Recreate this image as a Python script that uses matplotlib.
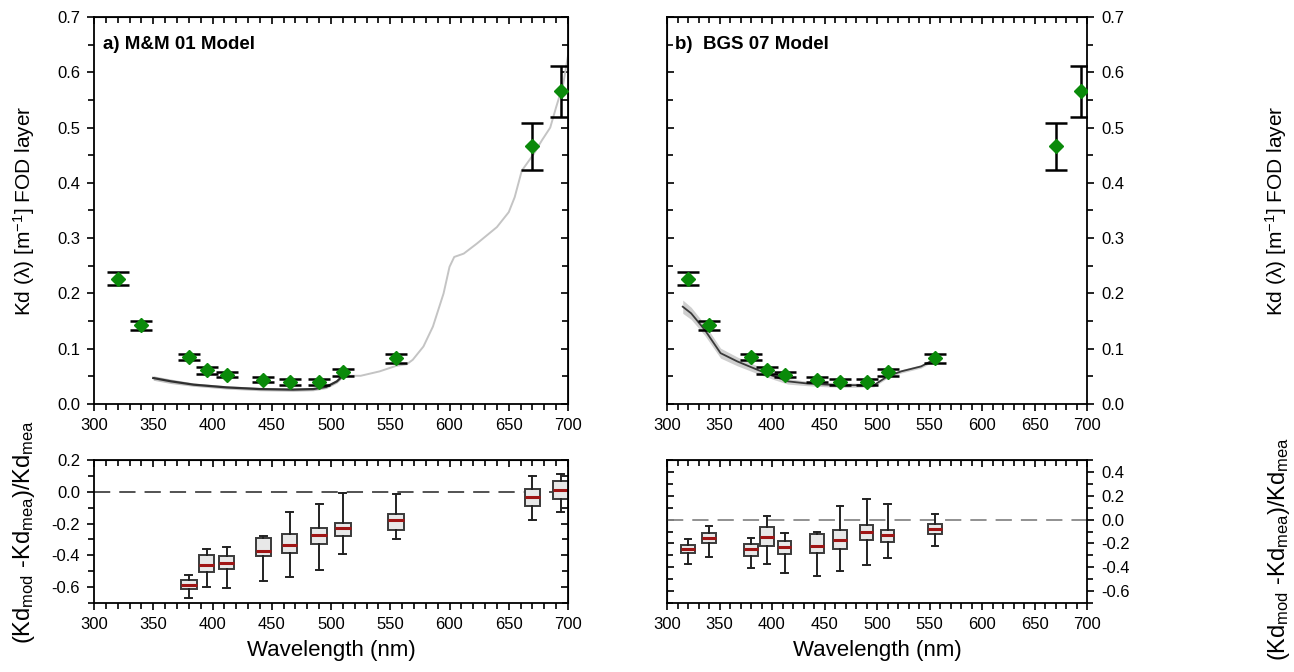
import matplotlib
matplotlib.use("Agg")
import matplotlib.pyplot as plt
import numpy as np
from matplotlib.ticker import MultipleLocator

plt.rcParams['font.family'] = ['Liberation Sans', 'DejaVu Sans']
plt.rcParams['mathtext.fontset'] = 'custom'
plt.rcParams['mathtext.rm'] = 'Liberation Sans'
plt.rcParams['mathtext.it'] = 'Liberation Sans:italic'
plt.rcParams['mathtext.bf'] = 'Liberation Sans:bold'

# measured Kd (green diamonds) with error bars
meas_wl = [320, 340, 380, 395, 412, 443, 465, 490, 510, 555, 670, 694]
meas_kd = [0.227, 0.142, 0.085, 0.061, 0.053, 0.044, 0.040, 0.040, 0.057, 0.083, 0.466, 0.566]
meas_err = [0.012, 0.009, 0.006, 0.006, 0.005, 0.005, 0.005, 0.005, 0.006, 0.008, 0.042, 0.046]

# M&M 01 model, UV/blue part (dark, with spread band)
mm_wl = [350, 365, 384, 412, 440, 468, 485, 496, 505, 510]
mm_kd = [0.047, 0.041, 0.035, 0.030, 0.027, 0.026, 0.027, 0.031, 0.041, 0.051]
mm_spread = [0.004, 0.004, 0.003, 0.003, 0.003, 0.003, 0.003, 0.003, 0.003, 0.003]

# M&M 01 model, visible part (light grey)
mm_vis_wl = [510, 525, 541, 555, 564, 569, 578, 586, 595, 600, 604, 612, 623, 640, 650,
             655, 661, 665, 671, 678, 685, 690, 696, 700]
mm_vis_kd = [0.051, 0.051, 0.059, 0.069, 0.072, 0.080, 0.104, 0.140, 0.200, 0.248, 0.266, 0.272,
             0.290, 0.320, 0.347, 0.374, 0.422, 0.434, 0.452, 0.477, 0.500, 0.537, 0.579, 0.630]

# BGS 07 model
bgs_wl = [315, 323, 336, 351, 367, 386, 402, 415, 434, 453, 472, 497, 510, 523, 542, 551, 556]
bgs_kd = [0.176, 0.164, 0.134, 0.092, 0.077, 0.062, 0.050, 0.041, 0.037, 0.035, 0.034, 0.034,
          0.050, 0.059, 0.068, 0.077, 0.085]
bgs_spread = [0.012, 0.011, 0.010, 0.009, 0.008, 0.007, 0.006, 0.005, 0.004, 0.004, 0.004, 0.003,
              0.003, 0.003, 0.003, 0.003, 0.003]

# relative differences (Kd_mod - Kd_mea)/Kd_mea, box statistics
mm_box_wl = [380, 395, 412, 443, 465, 490, 510, 555, 670, 694]
mm_lo = [-0.669, -0.600, -0.606, -0.560, -0.535, -0.490, -0.390, -0.300, -0.175, -0.130]
mm_q1 = [-0.612, -0.507, -0.487, -0.407, -0.386, -0.330, -0.280, -0.240, -0.090, -0.045]
mm_med = [-0.585, -0.461, -0.451, -0.371, -0.336, -0.275, -0.225, -0.175, -0.035, 0.010]
mm_q3 = [-0.553, -0.397, -0.407, -0.292, -0.263, -0.230, -0.195, -0.140, 0.020, 0.070]
mm_hi = [-0.524, -0.361, -0.348, -0.277, -0.129, -0.075, -0.010, -0.015, 0.100, 0.110]

bgs_box_wl = [320, 340, 380, 395, 412, 443, 465, 490, 510, 555]
bgs_lo = [-0.369, -0.310, -0.410, -0.374, -0.450, -0.470, -0.432, -0.385, -0.325, -0.225]
bgs_q1 = [-0.279, -0.193, -0.307, -0.220, -0.289, -0.279, -0.248, -0.175, -0.190, -0.125]
bgs_med = [-0.246, -0.151, -0.250, -0.150, -0.230, -0.223, -0.170, -0.100, -0.130, -0.075]
bgs_q3 = [-0.215, -0.109, -0.203, -0.064, -0.176, -0.123, -0.089, -0.045, -0.085, -0.040]
bgs_hi = [-0.167, -0.058, -0.153, 0.030, -0.109, -0.100, 0.112, 0.170, 0.130, 0.045]

fig = plt.figure(figsize=(12.94, 6.72), dpi=100)
W, H = 1294, 672


def add_ax(x0, x1, y0, y1):
    return fig.add_axes([x0 / W, 1 - y1 / H, (x1 - x0) / W, (y1 - y0) / H])


ax_a = add_ax(94, 568, 17, 404)
ax_b = add_ax(667, 1087, 17, 404)
ax_c = add_ax(94, 568, 460, 603)
ax_d = add_ax(667, 1087, 460, 603)

TICK_FS = 12
LABEL_FS = 15


def style(ax, ylim, ymaj, ymin, side='left'):
    ax.set_xlim(300, 700)
    ax.set_ylim(*ylim)
    ax.xaxis.set_major_locator(MultipleLocator(50))
    ax.xaxis.set_minor_locator(MultipleLocator(10))
    ax.yaxis.set_major_locator(MultipleLocator(ymaj))
    ax.yaxis.set_minor_locator(MultipleLocator(ymin))
    for s in ax.spines.values():
        s.set_linewidth(1.3)
    ax.tick_params(axis='x', which='both', direction='out', labelsize=TICK_FS, width=1.2)
    ax.tick_params(axis='x', which='major', length=5, pad=5)
    ax.tick_params(axis='x', which='minor', length=4)
    ax.tick_params(axis='y', which='both', direction='out', labelsize=TICK_FS, width=1.2)
    ax.tick_params(axis='y', which='major', length=5, pad=5)
    ax.tick_params(axis='y', which='minor', length=4)
    # inward ticks on the opposite sides
    top = ax.secondary_xaxis('top')
    top.xaxis.set_major_locator(MultipleLocator(50))
    top.xaxis.set_minor_locator(MultipleLocator(10))
    top.tick_params(which='both', direction='in', labeltop=False, width=1.2)
    top.tick_params(which='major', length=5)
    top.tick_params(which='minor', length=4)
    other = 'right' if side == 'left' else 'left'
    if side == 'right':
        ax.yaxis.tick_right()
        ax.yaxis.set_label_position('right')
    sec = ax.secondary_yaxis(other)
    sec.yaxis.set_major_locator(MultipleLocator(ymaj))
    sec.yaxis.set_minor_locator(MultipleLocator(ymin))
    sec.tick_params(which='both', direction='in', labelleft=False, labelright=False, width=1.2)
    sec.tick_params(which='major', length=5)
    sec.tick_params(which='minor', length=4)
    ax.yaxis.set_major_formatter(plt.FuncFormatter(lambda v, p: f"{v:.1f}".replace('-0.0', '0.0')))


kd_label = 'Kd (λ) [m$^{-1}$] FOD layer'
rel_label = r'(Kd$_{\rm mod}$ -Kd$_{\rm mea}$)/Kd$_{\rm mea}$'


def draw_meas(ax):
    ax.errorbar(meas_wl, meas_kd, yerr=meas_err, fmt='none', ecolor='black',
                elinewidth=1.8, capsize=8, capthick=1.8, zorder=3)
    ax.plot(meas_wl, meas_kd, 'D', color='#0a8a0a', markersize=7, zorder=4)


# panel a
mm_lo_band = np.array(mm_kd) - np.array(mm_spread)
mm_hi_band = np.array(mm_kd) + np.array(mm_spread)
ax_a.fill_between(mm_wl, mm_lo_band, mm_hi_band, color='#c0c0c0', lw=0, zorder=1)
ax_a.plot(mm_wl, mm_kd, color='#303030', lw=1.6, zorder=2)
ax_a.plot(mm_vis_wl, mm_vis_kd, color='#c4c4c4', lw=1.4, zorder=2)
draw_meas(ax_a)
style(ax_a, (0, 0.7), 0.1, 0.05, side='left')
ax_a.set_ylabel(kd_label, fontsize=LABEL_FS)
ax_a.yaxis.set_label_coords(-0.12, 0.5)
ax_a.text(0.02, 0.95, 'a) M&M 01 Model', transform=ax_a.transAxes, fontsize=13.5,
          fontweight='bold', va='top', ha='left')

# panel b
bgs_lo_band = np.array(bgs_kd) - np.array(bgs_spread)
bgs_hi_band = np.array(bgs_kd) + np.array(bgs_spread)
ax_b.fill_between(bgs_wl, bgs_lo_band, bgs_hi_band, color='#cfcfcf', lw=0, zorder=1)
ax_b.plot(bgs_wl, bgs_kd, color='#3a3a3a', lw=1.3, zorder=2)
draw_meas(ax_b)
style(ax_b, (0, 0.7), 0.1, 0.05, side='right')
ax_b.set_ylabel(kd_label, fontsize=LABEL_FS)
ax_b.yaxis.set_label_coords(1.419, 0.5)
ax_b.text(0.02, 0.95, 'b)  BGS 07 Model', transform=ax_b.transAxes, fontsize=13.5,
          fontweight='bold', va='top', ha='left')


def draw_boxes(ax, pos, lo, q1, med, q3, hi, zcolor):
    ax.axhline(0, color=zcolor, lw=1.3, dashes=(9, 5), zorder=1)
    stats = [dict(whislo=a, q1=b, med=c, q3=d, whishi=e, fliers=[])
             for a, b, c, d, e in zip(lo, q1, med, q3, hi)]
    ax.bxp(stats, positions=pos, widths=13, capwidths=6, patch_artist=True,
           showfliers=False, manage_ticks=False,
           boxprops=dict(facecolor='#e8e8e8', edgecolor='#3a3a3a', lw=1.4),
           whiskerprops=dict(color='#222222', lw=1.4),
           capprops=dict(color='#222222', lw=1.4),
           medianprops=dict(color='#a01515', lw=2.2))


# panel c
draw_boxes(ax_c, mm_box_wl, mm_lo, mm_q1, mm_med, mm_q3, mm_hi, '#444444')
style(ax_c, (-0.7, 0.2), 0.2, 0.1, side='left')
ax_c.set_ylabel(rel_label, fontsize=17)
ax_c.yaxis.set_label_coords(-0.12, 0.5)
ax_c.set_xlabel('Wavelength (nm)', fontsize=16, labelpad=6)

# panel d
draw_boxes(ax_d, bgs_box_wl, bgs_lo, bgs_q1, bgs_med, bgs_q3, bgs_hi, '#888888')
style(ax_d, (-0.7, 0.5), 0.2, 0.1, side='right')
ax_d.set_ylabel(rel_label, fontsize=17)
ax_d.yaxis.set_label_coords(1.426, 0.38)
ax_d.set_xlabel('Wavelength (nm)', fontsize=16, labelpad=6)

fig.savefig('out.png', dpi=100)
